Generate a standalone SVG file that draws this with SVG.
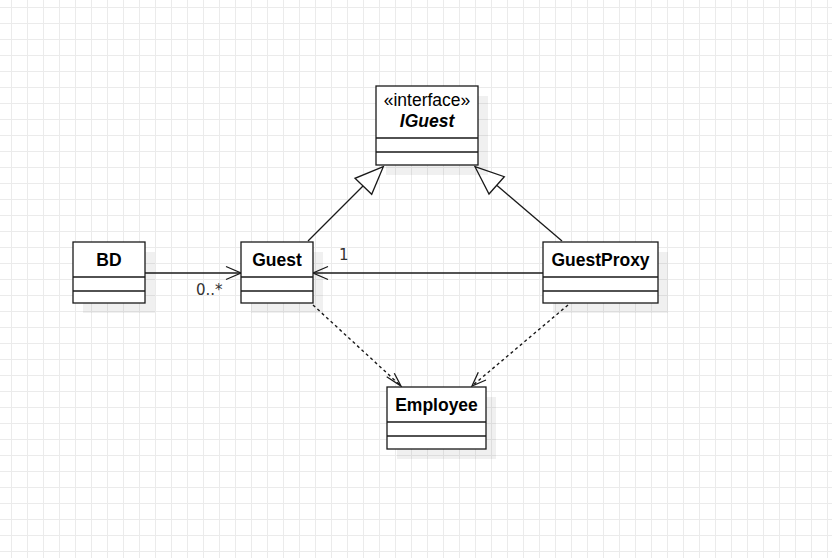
<svg xmlns="http://www.w3.org/2000/svg" width="832" height="558" viewBox="0 0 832 558">
<defs>
<pattern id="grid" width="16" height="16" patternUnits="userSpaceOnUse" x="11" y="7">
<path d="M0 0.5H16M0.5 0V16" fill="none" stroke="#ebebeb" stroke-width="1"/>
</pattern>
<style>
.box{fill:#ffffff;stroke:#1a1a1a;stroke-width:1.3}
.shadow{fill:#000000;fill-opacity:0.06;stroke:none}
.sep{stroke:#1a1a1a;stroke-width:1.3;fill:none}
.name{font-family:"Liberation Sans",Arial,sans-serif;font-size:17.5px;font-weight:bold;fill:#000;text-anchor:middle}
.stereo{font-family:"Liberation Sans",Arial,sans-serif;font-size:17.5px;fill:#000;text-anchor:middle}
.lbl{font-family:"DejaVu Sans",sans-serif;font-size:15px;fill:#333}
.line{fill:none;stroke:#1a1a1a;stroke-width:1.3}
.dash{fill:none;stroke:#1a1a1a;stroke-width:1.4;stroke-dasharray:3 3}
.tri{fill:#ffffff;stroke:#1a1a1a;stroke-width:1.3}
</style>
</defs>
<rect x="0" y="0" width="832" height="558" fill="#ffffff"/>
<rect x="0" y="0" width="832" height="558" fill="url(#grid)"/>

<g id="connectors">
<path class="line" d="M145 273H241"/>
<path class="line" d="M226 266.5L241 273L226 279.5"/>
<path class="line" d="M543 273H313"/>
<path class="line" d="M328 266.5L313 273L328 279.5"/>
<path class="line" d="M308 241L363 186"/>
<polygon class="tri" points="383.3,166.7 355,178.3 371.7,194.3"/>
<path class="line" d="M562 241L497 185.5"/>
<polygon class="tri" points="475,166.7 504.3,176.7 489,194"/>
<path class="dash" d="M313 305L401 386"/>
<path class="line" d="M394.3 373.3L401 386L386.7 376.7"/>
<path class="dash" d="M568 305L472 386"/>
<path class="line" d="M478.3 372.3L472 386L486 380"/>
<text class="lbl" x="196" y="295">0..*</text>
<text class="lbl" x="339" y="259.5">1</text>
</g>

<g id="IGuest">
<rect class="shadow" x="386" y="96" width="102" height="79"/>
<rect class="box" x="376" y="86" width="102" height="79"/>
<path class="sep" d="M376 138H478M376 152H478"/>
<text class="stereo" x="427" y="105.5">«interface»</text>
<text class="name" x="427" y="127" font-style="italic">IGuest</text>
</g>

<g id="BD">
<rect class="shadow" x="83" y="252" width="72" height="61"/>
<rect class="box" x="73" y="242" width="72" height="61"/>
<path class="sep" d="M73 277H145M73 291H145"/>
<text class="name" x="109" y="265.5">BD</text>
</g>

<g id="Guest">
<rect class="shadow" x="251" y="252" width="72" height="61"/>
<rect class="box" x="241" y="242" width="72" height="61"/>
<path class="sep" d="M241 277H313M241 291H313"/>
<text class="name" x="277" y="265.5">Guest</text>
</g>

<g id="GuestProxy">
<rect class="shadow" x="553" y="252" width="115" height="61"/>
<rect class="box" x="543" y="242" width="115" height="61"/>
<path class="sep" d="M543 277H658M543 291H658"/>
<text class="name" x="600.5" y="265.5">GuestProxy</text>
</g>

<g id="Employee">
<rect class="shadow" x="397" y="397" width="99" height="62"/>
<rect class="box" x="387" y="387" width="99" height="62"/>
<path class="sep" d="M387 422H486M387 436H486"/>
<text class="name" x="436.5" y="411">Employee</text>
</g>
</svg>
